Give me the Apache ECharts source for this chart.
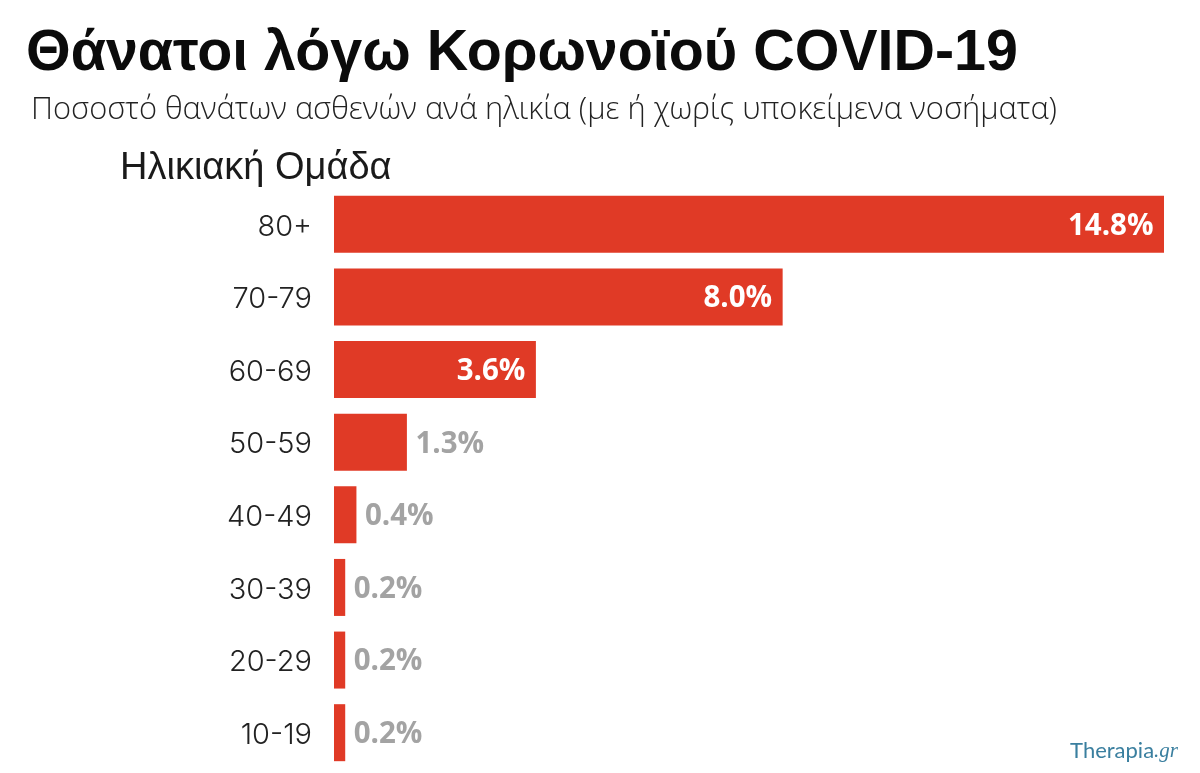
<!DOCTYPE html>
<html><head><meta charset="utf-8">
<style>html,body{margin:0;padding:0;background:#fff}#c{width:1200px;height:773px}</style>
<script src="https://cdn.jsdelivr.net/npm/echarts@6/dist/echarts.min.js"></script>
</head><body><div id="c"></div>
<script>
const categories = ['80+','70-79','60-69','50-59','40-49','30-39','20-29','10-19'];
const values = [14.8,8.0,3.6,1.3,0.4,0.2,0.2,0.2];
const valueLabels = ['14.8%','8.0%','3.6%','1.3%','0.4%','0.2%','0.2%','0.2%'];
const chart = echarts.init(document.getElementById('c'));
chart.setOption({
  animation:false,
  backgroundColor:'#fff',
  title:[
    {text:'Θάνατοι λόγω Κορωνοϊού COVID-19',left:21,top:21,textStyle:{fontFamily:'Liberation Sans',fontWeight:'bold',fontSize:57.4,color:'#0b0b0b'}},
    {text:'Ποσοστό θανάτων ασθενών ανά ηλικία (με ή χωρίς υποκείμενα νοσήματα)',left:26,top:90,textStyle:{fontFamily:'Open Sans',fontWeight:300,fontSize:30.8,color:'#222'}},
    {text:'Ηλικιακή Ομάδα',left:115,top:145,textStyle:{fontFamily:'Liberation Sans',fontWeight:'normal',fontSize:38,color:'#1a1a1a'}},
    {text:'{a|Therapia}{b|.gr}',right:17,top:735,textStyle:{fontWeight:'normal',rich:{
      a:{fontFamily:'Lato',fontWeight:'normal',fontSize:22,color:'#3a7f9f'},
      b:{fontFamily:'Liberation Serif',fontStyle:'italic',fontWeight:'normal',fontSize:21,color:'#3a7f9f'}}}}
  ],
  grid:{left:334,top:188,width:830,height:581},
  xAxis:{type:'value',min:0,max:14.8,show:false},
  yAxis:{type:'category',inverse:true,data:categories,
    axisLine:{show:false},axisTick:{show:false},
    axisLabel:{margin:22,formatter:'{t|{value}}',rich:{t:{padding:[5,0,0,0],fontFamily:'Inter',fontWeight:300,fontSize:29,color:'#222'}}}},
  series:[{type:'bar',data:values.map((v,i)=>({value:v,label:{
      position:v>=3?'insideRight':'right',
      color:v>=3?'#fff':'#a3a3a3',distance:v>=3?11:8,
      formatter:valueLabels[i]}})),
    barWidth:57,itemStyle:{color:'#e03a26'},
    label:{show:true,offset:[0.5,2],fontFamily:'Open Sans',fontWeight:'bold',fontSize:29.5}}]
});
</script></body></html>
